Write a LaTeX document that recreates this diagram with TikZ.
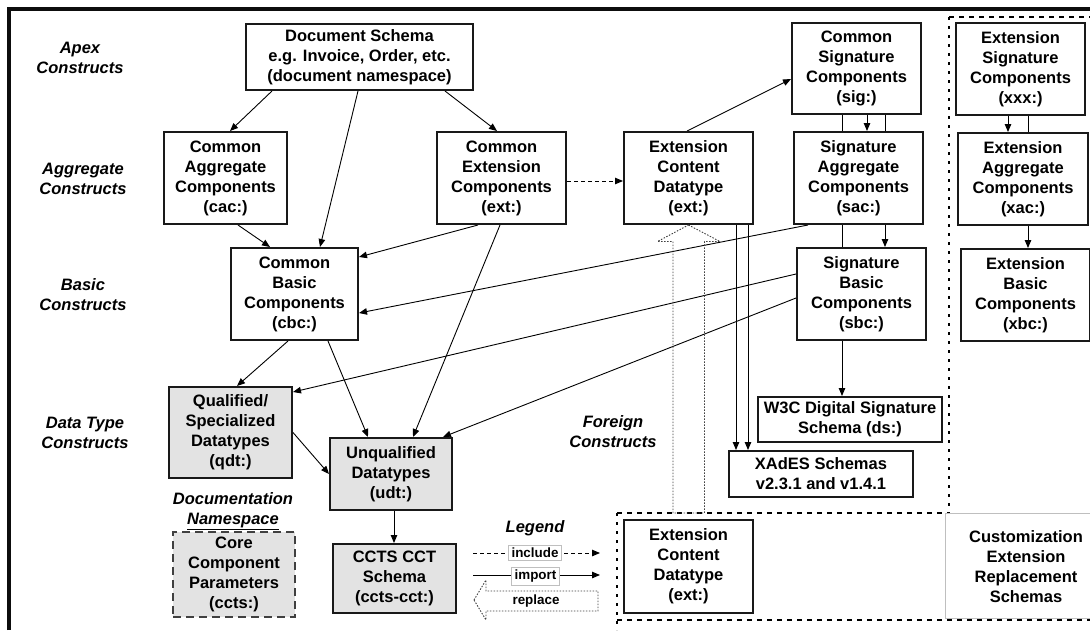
\documentclass[tikz,border=0pt]{standalone}
\usepackage{fontspec}
\setmainfont{Liberation Sans}
\usetikzlibrary{arrows.meta,backgrounds}
\begin{document}
\begin{tikzpicture}[x=1pt,y=-1pt,
  box/.style={draw=black!90,line width=2pt,fill=white,inner sep=0pt,align=center,
    font=\fontsize{16.5}{20}\selectfont\bfseries,text=black},
  dtbox/.style={box,fill=black!11},
  wh/.style n args={2}{minimum width=#1pt,minimum height=#2pt},
  lab/.style={font=\fontsize{16.5}{20}\selectfont\bfseries\itshape,align=center,text=black},
  conn/.style={line width=0.9pt,draw=black,-{Triangle[length=8pt,width=6.5pt]}},
  inclconn/.style={conn,dash pattern=on 4pt off 3pt},
  hollow/.style={line width=0.9pt,draw=black!75,dash pattern=on 1.5pt off 1.5pt},
  regionh/.style={line width=2.5pt,draw=black,dash pattern=on 5pt off 5pt},
  regionv/.style={line width=2.5pt,draw=black,dash pattern=on 3pt off 6pt},
  legbox/.style={draw=black!25,fill=white,inner xsep=3pt,inner ysep=2.5pt,font=\fontsize{13.4}{15}\selectfont\bfseries},
  leglab/.style={font=\fontsize{13.4}{15}\selectfont\bfseries}
]
\useasboundingbox (0,0) rectangle (1090,630);

% outer frame
\draw[line width=3.3pt,draw=black!95] (9,630) -- (9,9) -- (1090,9);

% region borders
\draw[regionv] (949,17) -- (949,513);
\draw[regionh] (949,17) -- (1090,17);
\draw[regionh] (617,513) -- (949,513);
\draw[regionv] (617,513) -- (617,630);
\draw[regionh] (617,620) -- (1090,620);
\draw[draw=black!25,line width=0.8pt] (945,513) rectangle (1095,618);

% row labels
\node[lab] (apex) at (80,58) {Apex\\Constructs};
\node[lab] (aggr) at (83,179) {Aggregate\\Constructs};
\node[lab] (basic) at (83,295) {Basic\\Constructs};
\node[lab] (dtc) at (85,433) {Data Type\\Constructs};
\node[lab] (docns) at (233,511) {Documentation\\\underline{Namespace}};
\node[lab] (foreign) at (613,432) {Foreign\\Constructs};
\node[lab] (legend) at (535,528) {Legend};

% boxes
\node[box,wh={227}{66}] (doc) at (359.5,57) {Document Schema\\e.g. Invoice, Order, etc.\\(document namespace)};
\node[box,wh={123}{92}] (cac) at (225.5,178) {Common\\Aggregate\\Components\\(cac:)};
\node[box,wh={129}{92}] (ext) at (501.5,178) {Common\\Extension\\Components\\(ext:)};
\node[box,wh={129}{92}] (ecd) at (688.5,178) {Extension\\Content\\Datatype\\(ext:)};
\node[box,wh={129}{91}] (sig) at (856.5,68.5) {Common\\Signature\\Components\\(sig:)};
\node[box,wh={129}{92}] (sac) at (858.5,178) {Signature\\Aggregate\\Components\\(sac:)};
\node[box,wh={129}{92}] (sbc) at (861.5,294) {Signature\\Basic\\Components\\(sbc:)};
\node[box,wh={127}{92}] (cbc) at (294.5,294) {Common\\Basic\\Components\\(cbc:)};
\node[box,wh={129}{92}] (xxx) at (1020.5,69) {Extension\\Signature\\Components\\(xxx:)};
\node[box,wh={130}{92}] (xac) at (1023,179) {Extension\\Aggregate\\Components\\(xac:)};
\node[box,wh={129}{92}] (xbc) at (1025.5,295) {Extension\\Basic\\Components\\(xbc:)};
\node[dtbox,wh={123}{91}] (qdt) at (230.5,432.5) {Qualified/\\Specialized\\Datatypes\\(qdt:)};
\node[dtbox,wh={122}{72}] (udt) at (391,474) {Unqualified\\Datatypes\\(udt:)};
\node[dtbox,wh={122}{85},dash pattern=on 8pt off 5pt,draw=black!75] (ccts) at (234,574.5) {Core\\Component\\Parameters\\(ccts:)};
\node[dtbox,wh={123}{69}] (cct) at (394.5,578.5) {CCTS CCT\\Schema\\(ccts-cct:)};
\node[box,wh={184}{45}] (w3c) at (850,419.5) {W3C Digital Signature\\Schema (ds:)};
\node[box,wh={184}{46}] (xades) at (821,474) {XAdES Schemas\\v2.3.1 and v1.4.1};
\node[box,wh={129}{93}] (ecd2) at (688.5,566.5) {Extension\\Content\\Datatype\\(ext:)};
\node[font=\fontsize{16.5}{20}\selectfont\bfseries,align=center] (cust) at (1026,567) {Customization\\Extension\\Replacement\\Schemas};

% legend
\coordinate (incA) at (473,553);
\coordinate (incB) at (600,553);
\coordinate (impA) at (473,575);
\coordinate (impB) at (600,575);
\draw[inclconn] (incA) -- (incB);
\draw[conn] (impA) -- (impB);
\node[legbox] (inclab) at (535,552.5) {include};
\node[legbox] (implab) at (535.5,576) {import};
\draw[hollow] (474,600) -- (486,580) -- (486,591) -- (598,591) -- (598,611) -- (486,611) -- (486,620) -- cycle;
\node[leglab] (replab) at (536,601) {replace};

% replace arrow from legend box to extension content datatype
\draw[hollow] (ecd.south) -- (720,241.5) -- (704.5,241.5) -- (704.5,513) -- (673,513) -- (673,241.5) -- (657.5,241.5) -- cycle;

% connectors
\begin{scope}[on background layer]
\fill[white] (0,0) rectangle (1090,630);
\draw[conn] ([xshift=-87.5pt]doc.south) -- ([xshift=4.5pt]cac.north);
\draw[conn] ([xshift=-1.5pt]doc.south) -- ([xshift=25.5pt]cbc.north);
\draw[conn] ([xshift=85.5pt]doc.south) -- ([xshift=-4.5pt]ext.north);
\draw[conn] ([xshift=12.5pt]cac.south) -- ([xshift=-24.5pt]cbc.north);
\draw[conn] ([xshift=-23.5pt]ext.south) -- ([yshift=37pt]cbc.east);
\draw[conn] ([xshift=-1.5pt]ext.south) -- ([xshift=22pt]udt.north);
\draw[inclconn] ([yshift=-3pt]ext.east) -- ([yshift=-3pt]ecd.west);
\draw[conn] ([xshift=-1.5pt]ecd.north) -- ([yshift=-10.5pt]sig.west);
\draw[conn] ([xshift=47.5pt]ecd.south) -- ([xshift=-85pt]xades.north);
\draw[conn] ([xshift=59.5pt]ecd.south) -- ([xshift=-73pt]xades.north);
\draw[conn] ([xshift=10.5pt]sig.south) -- ([xshift=8.5pt]sac.north);
\draw[conn] ([xshift=28.5pt]sig.south) -- ([xshift=23.5pt]sbc.north);
\draw[conn] ([xshift=-14.5pt]sig.south) -- ([xshift=-8pt]w3c.north);
\draw[conn] ([xshift=-50.5pt]sac.south) -- ([yshift=-19pt]cbc.east);
\draw[conn] ([yshift=20pt]sbc.west) -- ([yshift=40.5pt]qdt.east);
\draw[conn] ([yshift=-4pt]sbc.west) -- ([xshift=52pt]udt.north);
\draw[conn] ([xshift=-6.5pt]cbc.south) -- ([xshift=6.5pt]qdt.north);
\draw[conn] ([xshift=33.5pt]cbc.south) -- ([xshift=-23pt]udt.north);
\draw[conn] (qdt.east) -- (udt.west);
\draw[conn] ([xshift=3pt]udt.south) -- ([xshift=-0.5pt]cct.north);
\draw[conn] ([xshift=-12.5pt]xxx.south) -- ([xshift=-15pt]xac.north);
\draw[conn] ([xshift=7.5pt]xxx.south) -- ([xshift=2.5pt]xbc.north);
\end{scope}
\end{tikzpicture}
\end{document}
